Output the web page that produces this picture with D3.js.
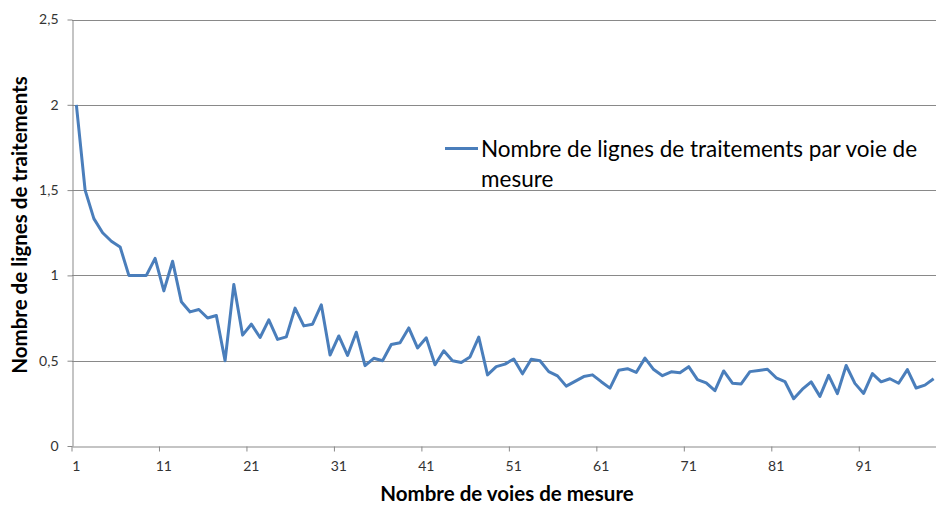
<!DOCTYPE html>
<html>
<head>
<meta charset="utf-8">
<script src="https://cdn.jsdelivr.net/npm/d3@7"></script>
<style>
  html, body { margin: 0; padding: 0; background: #fff; }
  svg { display: block; font-family: Lato, "Open Sans", sans-serif; }
</style>
</head>
<body>
<svg id="chart" width="936" height="505"></svg>
<script>
// Nombre de voies de mesure (catégories 1 à 99)
const categories = d3.range(1, 100);

// Nombre de lignes de traitements par voie de mesure
const values = [
  2.0, 1.5, 1.333, 1.25, 1.2, 1.167, 1.0, 1.0, 1.0, 1.1,
  0.909, 1.083, 0.846, 0.786, 0.8, 0.75, 0.765, 0.5, 0.947, 0.65,
  0.714, 0.636, 0.739, 0.625, 0.64, 0.808, 0.704, 0.714, 0.828, 0.533,
  0.645, 0.531, 0.667, 0.471, 0.514, 0.5, 0.595, 0.605, 0.692, 0.575,
  0.634, 0.476, 0.558, 0.5, 0.489, 0.522, 0.638, 0.417, 0.465, 0.48,
  0.51, 0.423, 0.509, 0.5, 0.436, 0.411, 0.351, 0.379, 0.407, 0.417,
  0.377, 0.339, 0.444, 0.453, 0.431, 0.515, 0.448, 0.412, 0.435, 0.429,
  0.465, 0.389, 0.37, 0.324, 0.44, 0.368, 0.364, 0.436, 0.443, 0.45,
  0.4, 0.378, 0.277, 0.333, 0.376, 0.291, 0.414, 0.307, 0.472, 0.367,
  0.308, 0.424, 0.376, 0.394, 0.368, 0.448, 0.34, 0.357, 0.394
];

const xTickLabels = [1, 11, 21, 31, 41, 51, 61, 71, 81, 91];
const yTicks = [0, 0.5, 1, 1.5, 2, 2.5];

const seriesName = "Nombre de lignes de traitements par voie de mesure";
const xTitle = "Nombre de voies de mesure";
const yTitle = "Nombre de lignes de traitements";

const svg = d3.select("#chart");
const plot = { left: 72, right: 938, top: 19.5, bottom: 446 };
const lineColor = "#4a7ebb";
const gridColor = "#898989";
const textColor = "#333";

const x = d3.scaleBand().domain(categories).range([plot.left, plot.right]).padding(0);
const bw = x.bandwidth();
const y = d3.scaleLinear().domain([0, 2.5]).range([plot.bottom, plot.top]);

const fr = d3.formatLocale({ decimal: ",", thousands: " ", grouping: [3], currency: ["", " €"] });
const fmt = v => (v === Math.round(v) ? String(v) : fr.format(",.1f")(v));

// Quadrillage horizontal
svg.append("g")
  .selectAll("line")
  .data(yTicks.filter(d => d > 0))
  .join("line")
  .attr("x1", plot.left).attr("x2", 936)
  .attr("y1", d => Math.round(y(d)) + 0.5).attr("y2", d => Math.round(y(d)) + 0.5)
  .attr("stroke", gridColor).attr("stroke-width", 1);

// Axe vertical
const yAxis = svg.append("g")
  .attr("transform", `translate(${plot.left + 0.5},0)`)
  .call(d3.axisLeft(y).tickValues(yTicks).tickFormat(fmt).tickSize(5).tickSizeOuter(0).tickPadding(9));
yAxis.select(".domain").attr("stroke", gridColor);
yAxis.selectAll(".tick line").attr("stroke", gridColor);
yAxis.selectAll(".tick text").attr("fill", textColor).style("font-size", "14px")
  .style("font-family", "Lato, sans-serif");

// Axe horizontal (graduations entre les catégories, étiquettes centrées)
const xAxis = svg.append("g")
  .attr("transform", `translate(0,${Math.round(plot.bottom) + 0.5})`)
  .call(d3.axisBottom(x).tickValues(xTickLabels).tickSize(5).tickSizeOuter(0).tickPadding(10));
xAxis.select(".domain").attr("stroke", gridColor);
xAxis.selectAll(".tick line").attr("stroke", gridColor).attr("transform", `translate(${-bw / 2},0)`);
xAxis.selectAll(".tick text").attr("fill", textColor).style("font-size", "14px")
  .style("font-family", "Lato, sans-serif");

// Série
const line = d3.line()
  .x((d, i) => x(categories[i]) + bw / 2)
  .y(d => y(d));

svg.append("path")
  .datum(values)
  .attr("d", line)
  .attr("fill", "none")
  .attr("stroke", lineColor)
  .attr("stroke-width", 3)
  .attr("stroke-linejoin", "round");

// Titres des axes
svg.append("text")
  .attr("x", 507).attr("y", 501)
  .attr("text-anchor", "middle")
  .attr("fill", "#000")
  .style("font-size", "20.5px").style("font-weight", "bold")
  .text(xTitle);

svg.append("text")
  .attr("transform", "translate(27,225) rotate(-90)")
  .attr("text-anchor", "middle")
  .attr("fill", "#000")
  .style("font-size", "20.5px").style("font-weight", "bold")
  .text(yTitle);

// Légende
const legend = svg.append("g");
legend.append("line")
  .attr("x1", 445).attr("x2", 478)
  .attr("y1", 148.5).attr("y2", 148.5)
  .attr("stroke", lineColor).attr("stroke-width", 3);
const words = seriesName.split(" ");
const lt = legend.append("text")
  .attr("fill", "#000")
  .style("font-size", "22.5px");
lt.append("tspan").attr("x", 481).attr("y", 157).text(words.slice(0, 8).join(" "));
lt.append("tspan").attr("x", 481).attr("y", 187).text(words.slice(8).join(" "));
</script>
</body>
</html>
